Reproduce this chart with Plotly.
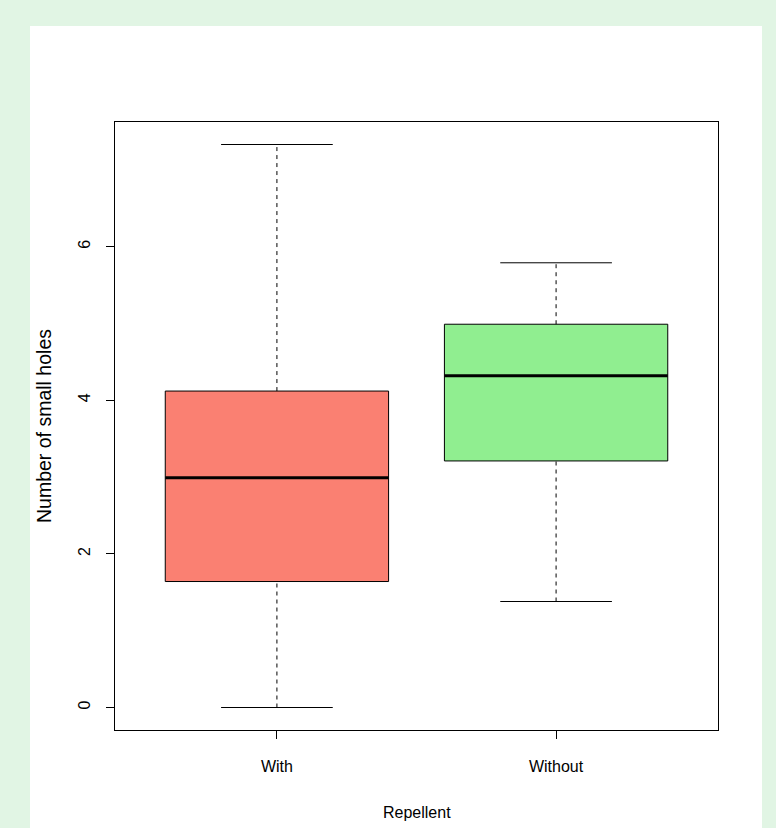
import plotly.graph_objects as go

# ---- data ----
categories = ["With", "Without"]
positions = [1, 2]
lower_whisker = [0.0, 1.38]
q1 = [1.64, 3.21]
median = [2.99, 4.32]
q3 = [4.12, 4.99]
upper_whisker = [7.33, 5.79]
fill_colors = ["#FA8072", "#90EE90"]
y_ticks = [0, 2, 4, 6]

W, H = 776, 828
ml, mr, mt, mb = 115, 58, 122, 98
pw, ph = W - ml - mr, H - mt - mb

BOX_W = 0.8
CAP_W = 0.4

fig = go.Figure()

# whiskers (dashed) and caps (solid)
for p, lo, a, b, hi in zip(positions, lower_whisker, q1, q3, upper_whisker):
    for y0, y1 in ((lo, a), (b, hi)):
        fig.add_trace(go.Scatter(x=[p, p], y=[y0, y1], mode="lines",
                                 line=dict(color="#000000", width=1, dash="4px,4px"),
                                 showlegend=False, hoverinfo="skip"))
    for yc in (lo, hi):
        fig.add_trace(go.Scatter(x=[p - CAP_W / 2, p + CAP_W / 2], y=[yc, yc], mode="lines",
                                 line=dict(color="#000000", width=1),
                                 showlegend=False, hoverinfo="skip"))

# boxes
fig.add_trace(go.Bar(x=positions, y=[b - a for a, b in zip(q1, q3)], base=q1,
                     width=BOX_W, marker=dict(color=fill_colors,
                                              line=dict(color="#000000", width=1)),
                     showlegend=False, hoverinfo="skip"))

# medians
for p, m in zip(positions, median):
    fig.add_trace(go.Scatter(x=[p - BOX_W / 2, p + BOX_W / 2], y=[m, m], mode="lines",
                             line=dict(color="#000000", width=3),
                             showlegend=False, hoverinfo="skip"))

# white panel on the light green page
fig.add_shape(type="rect", xref="paper", yref="paper",
              x0=(30 - ml) / pw, x1=(762 - ml) / pw,
              y0=-0.3, y1=(H - mb - 26) / ph,
              fillcolor="white", line=dict(width=0), layer="below")

font = dict(family="Liberation Sans, Arial, sans-serif", size=16, color="#000000")
ytitle_font = dict(family="Liberation Sans, Arial, sans-serif", size=19.5, color="#000000")

fig.update_layout(
    width=W, height=H,
    margin=dict(l=ml, r=mr, t=mt, b=mb),
    paper_bgcolor="#E1F5E4",
    plot_bgcolor="white",
    font=font,
    showlegend=False,
    xaxis=dict(range=[0.42, 2.58], tickvals=positions, ticktext=categories,
               showgrid=False, zeroline=False, showline=True, mirror=True,
               linecolor="#000000", linewidth=1, ticks="outside", ticklen=8,
               tickcolor="#000000", ticklabelstandoff=14, tickfont=font),
    yaxis=dict(range=[-0.293, 7.623], tickvals=y_ticks,
               showgrid=False, zeroline=False, showline=True, mirror=True,
               linecolor="#000000", linewidth=1, ticks="outside", ticklen=8,
               tickcolor="#000000", tickangle=-90, ticklabelstandoff=10, tickfont=font),
    annotations=[
        dict(text="Repellent", xref="paper", yref="paper", x=0.5,
             y=-(813 - (H - mb)) / ph, showarrow=False, font=font,
             xanchor="center", yanchor="middle"),
        dict(text="Number of small holes", xref="paper", yref="paper",
             x=(44 - ml) / pw, y=0.5, textangle=-90, showarrow=False, font=ytitle_font,
             xanchor="center", yanchor="middle"),
    ],
)

fig.write_html("out.html", config={"displayModeBar": False},
               post_script="document.body.style.margin='0';document.body.style.overflow='hidden';")
